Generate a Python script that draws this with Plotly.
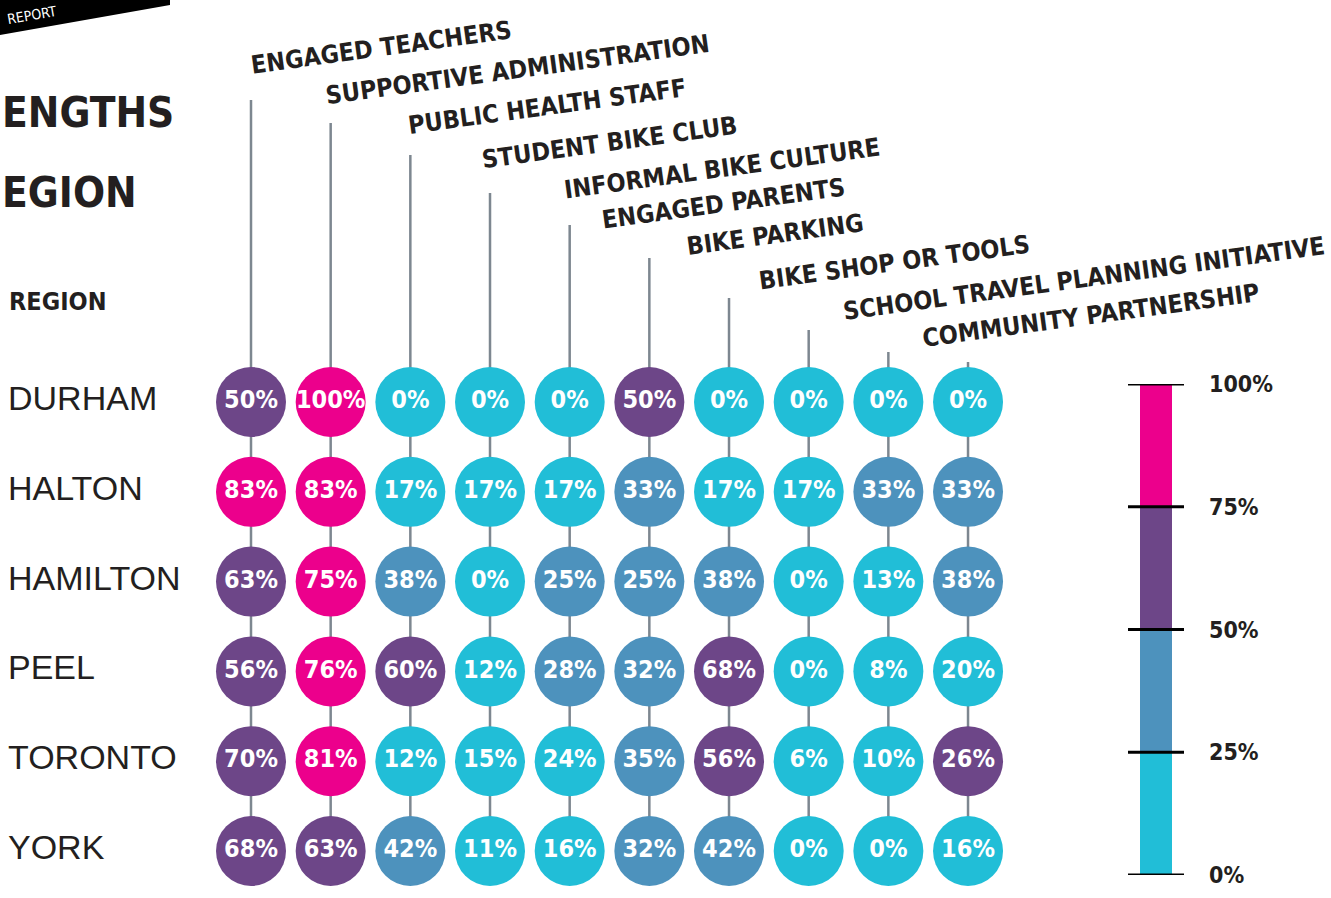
import plotly.graph_objects as go

# ---------------- data ----------------
regions = ["DURHAM", "HALTON", "HAMILTON", "PEEL", "TORONTO", "YORK"]
strengths = [
    "ENGAGED TEACHERS", "SUPPORTIVE ADMINISTRATION", "PUBLIC HEALTH STAFF",
    "STUDENT BIKE CLUB", "INFORMAL BIKE CULTURE", "ENGAGED PARENTS",
    "BIKE PARKING", "BIKE SHOP OR TOOLS", "SCHOOL TRAVEL PLANNING INITIATIVE",
    "COMMUNITY PARTNERSHIP",
]
durham = [50, 100, 0, 0, 0, 50, 0, 0, 0, 0]
halton = [83, 83, 17, 17, 17, 33, 17, 17, 33, 33]
hamilton = [63, 75, 38, 0, 25, 25, 38, 0, 13, 38]
peel = [56, 76, 60, 12, 28, 32, 68, 0, 8, 20]
toronto = [70, 81, 12, 15, 24, 35, 56, 6, 10, 26]
york = [68, 63, 42, 11, 16, 32, 42, 0, 0, 16]
region_values = [durham, halton, hamilton, peel, toronto, york]

legend_breaks = [0, 25, 50, 75, 100]
legend_labels = ["0%", "25%", "50%", "75%", "100%"]
# the source shades this one cell in the 50-75% colour
shade_overrides = {("TORONTO", "COMMUNITY PARTNERSHIP"): 2}

# ---------------- style / layout ----------------
W, H = 1331, 898
bin_colors = ["#21bed7", "#4d92bd", "#6d4688", "#ec008c"]
stem_color = "#7d8790"
ink = "#231f20"
NARROW = "Liberation Sans Narrow, Arial Narrow, DejaVu Sans Condensed, sans-serif"
REG = "Liberation Sans, Arial, Helvetica, sans-serif"

COL0_PX, COL_STEP_PX = 251.0, 79.67
ROW0_PX, ROW_STEP_PX = 402.0, 89.8
X_LO = -COL0_PX / COL_STEP_PX
X_HI = X_LO + W / COL_STEP_PX
Y_TOP = -ROW0_PX / ROW_STEP_PX
Y_BOT = Y_TOP + H / ROW_STEP_PX


def px_to_y(py):
    return Y_TOP + (py / H) * (Y_BOT - Y_TOP)


stem_top_px = [100, 123, 155, 193, 225, 258, 298, 330, 352, 362]
label_anchor_px = [(247, 82), (322, 112), (404, 142), (478, 177), (560, 207),
                   (598, 237), (683, 263), (755, 298), (839, 328), (918, 355)]


def shade(v):
    return 3 if v >= 75 else 2 if v >= 50 else 1 if v >= 25 else 0


fig = go.Figure()

for reg, vals in zip(regions, region_values):
    cols = []
    for s, v in zip(strengths, vals):
        b = shade_overrides.get((reg, s), shade(v))
        cols.append(bin_colors[b])
    fig.add_trace(go.Scatter(
        x=strengths, y=[reg] * len(strengths), mode="markers+text",
        marker=dict(size=70, color=cols, line=dict(width=0)),
        text=[f"<b>{v}%</b>" for v in vals], textposition="middle center",
        textfont=dict(family=NARROW, size=25, color="white"),
        hoverinfo="skip", showlegend=False, cliponaxis=False,
    ))

# legend colour bar
fig.add_trace(go.Bar(
    x=[0] * 4, y=[legend_breaks[i + 1] - legend_breaks[i] for i in range(4)],
    base=legend_breaks[:-1], marker=dict(color=bin_colors, line=dict(width=0)),
    width=1, xaxis="x2", yaxis="y2", hoverinfo="skip", showlegend=False,
))

shapes = []
# stems
for i, top in enumerate(stem_top_px):
    shapes.append(dict(type="line", xref="x", yref="y", x0=i, x1=i,
                       y0=len(regions) - 1, y1=px_to_y(top), layer="below",
                       line=dict(color=stem_color, width=2.5)))
# legend ticks
for b in legend_breaks:
    shapes.append(dict(type="line", xref="paper", yref="y2", x0=1128 / W, x1=1184 / W,
                       y0=b, y1=b, line=dict(color="black", width=3)))
# banner
shapes.append(dict(type="path", xref="paper", yref="paper",
                   path=f"M 0 1 L {170 / W} 1 L {170 / W} {1 - 5 / H} L 0 {1 - 35 / H} Z",
                   fillcolor="black", line=dict(width=0)))

annotations = []
for s, (ax, ay) in zip(strengths, label_anchor_px):
    annotations.append(dict(text=f"<b>{s}</b>", xref="paper", yref="paper",
                            x=ax / W, y=1 - ay / H, xanchor="left", yanchor="bottom",
                            textangle=-7.8, showarrow=False,
                            font=dict(family=NARROW, size=25, color=ink)))
for r in regions:
    annotations.append(dict(text=r, xref="paper", yref="y", x=6 / W, y=r, yshift=4,
                            xanchor="left", yanchor="middle", showarrow=False,
                            font=dict(family=REG, size=34, color=ink)))
for b, lab in zip(legend_breaks, legend_labels):
    annotations.append(dict(text=f"<b>{lab}</b>", xref="paper", yref="y2", x=1207 / W, y=b,
                            xanchor="left", yanchor="middle", showarrow=False,
                            font=dict(family=NARROW, size=23, color=ink)))
annotations += [
    dict(text="<b>REGION</b>", xref="paper", yref="paper", x=7 / W, y=1 - 301 / H,
         xanchor="left", yanchor="middle", showarrow=False,
         font=dict(family=NARROW, size=25, color=ink)),
    dict(text="<b>ENGTHS</b>", xref="paper", yref="paper", x=0, y=1 - 113 / H,
         xanchor="left", yanchor="middle", showarrow=False,
         font=dict(family=NARROW, size=42, color=ink)),
    dict(text="<b>EGION</b>", xref="paper", yref="paper", x=0, y=1 - 193 / H,
         xanchor="left", yanchor="middle", showarrow=False,
         font=dict(family=NARROW, size=42, color=ink)),
    dict(text="REPORT", xref="paper", yref="paper", x=4 / W, y=1 - 15 / H,
         xanchor="left", yanchor="middle", textangle=-10, showarrow=False,
         font=dict(family=NARROW, size=14, color="white")),
]

fig.update_layout(
    width=W, height=H, margin=dict(l=0, r=0, t=0, b=0),
    paper_bgcolor="white", plot_bgcolor="rgba(0,0,0,0)",
    xaxis=dict(type="category", categoryorder="array", categoryarray=strengths,
               range=[X_LO, X_HI], visible=False, fixedrange=True),
    yaxis=dict(type="category", categoryorder="array", categoryarray=regions,
               range=[Y_BOT, Y_TOP], visible=False, fixedrange=True),
    xaxis2=dict(domain=[1140 / W, 1172 / W], range=[-0.5, 0.5], visible=False,
                anchor="y2", fixedrange=True),
    yaxis2=dict(domain=[(H - 875) / H, (H - 384) / H], range=[0, 100], visible=False,
                anchor="x2", fixedrange=True),
    shapes=shapes, annotations=annotations, showlegend=False,
)

# remove the page's default 8px body margin so the figure fills the window
fig.write_html("out.html", config={"displayModeBar": False},
               post_script="document.body.style.margin='0';")
